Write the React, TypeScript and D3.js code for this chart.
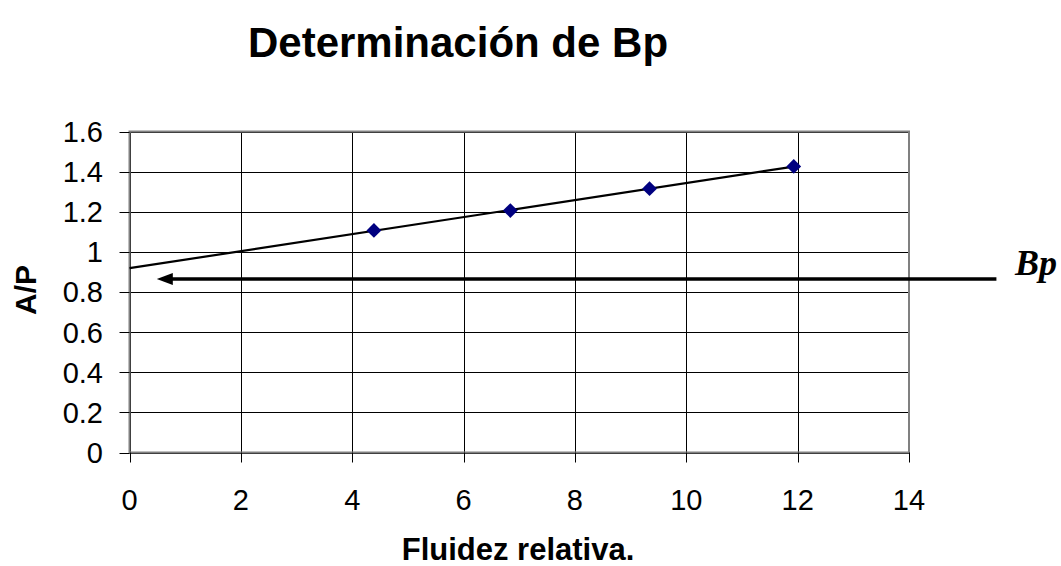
import React from "react";
import * as d3 from "d3";

const fluidez = [4.39, 6.84, 9.34, 11.93];
const ap = [1.107, 1.206, 1.315, 1.426];
const xTicks = [0, 2, 4, 6, 8, 10, 12, 14];
const yTicks = [0, 0.2, 0.4, 0.6, 0.8, 1, 1.2, 1.4, 1.6];
const bpArrow = { y: 0.865, from: 15.57, to: 0.49 };

const W = 1061;
const H = 566;

export default function App() {
  const x = d3.scaleLinear().domain([0, 14]).range([129.5, 909]);
  const y = d3.scaleLinear().domain([0, 1.6]).range([452.5, 131.5]);

  const n = fluidez.length;
  const mx = d3.mean(fluidez)!;
  const my = d3.mean(ap)!;
  let sxy = 0, sxx = 0;
  for (let i = 0; i < n; i++) {
    sxy += (fluidez[i] - mx) * (ap[i] - my);
    sxx += (fluidez[i] - mx) ** 2;
  }
  const slope = sxy / sxx;
  const icpt = my - slope * mx;
  const xEnd = d3.max(fluidez)!;
  const trend = d3.line<number>().x((d) => x(d)).y((d) => y(icpt + slope * d))([0, xEnd]);

  const diamond = d3.symbol().type(d3.symbolDiamond2).size(140)();
  const ay = y(bpArrow.y);
  const tipX = x(bpArrow.to);

  return (
    <div style={{ position: "absolute", left: 0, top: 0 }}>
      <svg width={W} height={H} style={{ display: "block", background: "#fff" }}>
        <text x={458} y={57} textAnchor="middle" fontFamily="Liberation Sans, Arial, sans-serif" fontWeight="bold" fontSize={42}>
          Determinación de Bp
        </text>
        {/* grid */}
        {yTicks.map((t) => (
          <line key={"gy" + t} x1={x(0)} x2={x(14)} y1={Math.round(y(t)) + 0.5} y2={Math.round(y(t)) + 0.5} stroke="#000" strokeWidth={1} />
        ))}
        {xTicks.map((t) => (
          <line key={"gx" + t} x1={Math.round(x(t)) + 0.5} x2={Math.round(x(t)) + 0.5} y1={y(1.6)} y2={y(0)} stroke="#000" strokeWidth={1} />
        ))}
        {/* border */}
        <rect x={x(0)} y={y(1.6)} width={x(14) - x(0)} height={y(0) - y(1.6)} fill="none" stroke="#808080" strokeWidth={2} />
        {/* ticks */}
        {yTicks.map((t) => (
          <line key={"ty" + t} x1={x(0) - 10} x2={x(0)} y1={Math.round(y(t)) + 0.5} y2={Math.round(y(t)) + 0.5} stroke="#000" strokeWidth={1} />
        ))}
        {xTicks.map((t) => (
          <line key={"tx" + t} x1={Math.round(x(t)) + 0.5} x2={Math.round(x(t)) + 0.5} y1={y(0)} y2={y(0) + 10} stroke="#000" strokeWidth={1} />
        ))}
        {yTicks.map((t) => (
          <text key={"ly" + t} x={103} y={y(t)} dy="0.36em" textAnchor="end" fontFamily="Liberation Sans, Arial, sans-serif" fontSize={29}>
            {d3.format("~g")(t)}
          </text>
        ))}
        {xTicks.map((t) => (
          <text key={"lx" + t} x={x(t)} y={510} textAnchor="middle" fontFamily="Liberation Sans, Arial, sans-serif" fontSize={29}>
            {t}
          </text>
        ))}
        {/* trend line */}
        <path d={trend!} fill="none" stroke="#000" strokeWidth={2.2} />
        {/* points */}
        {fluidez.map((v, i) => (
          <path key={"p" + i} d={diamond!} transform={`translate(${x(v)},${y(ap[i])})`} fill="#000080" />
        ))}
        {/* arrow */}
        <line x1={x(bpArrow.from)} x2={tipX + 14} y1={ay} y2={ay} stroke="#000" strokeWidth={3.5} />
        <path d={`M${tipX},${ay} L${tipX + 16},${ay - 6} L${tipX + 16},${ay + 6} Z`} fill="#000" />
        <text x={1015} y={275} fontFamily="Liberation Serif, Times New Roman, serif" fontWeight="bold" fontStyle="italic" fontSize={36}>
          Bp
        </text>
        {/* axis titles */}
        <text x={518} y={560} textAnchor="middle" fontFamily="Liberation Sans, Arial, sans-serif" fontWeight="bold" fontSize={31}>
          Fluidez relativa.
        </text>
        <text transform="translate(36,290) rotate(-90)" textAnchor="middle" fontFamily="Liberation Sans, Arial, sans-serif" fontWeight="bold" fontSize={30}>
          A/P
        </text>
      </svg>
    </div>
  );
}
